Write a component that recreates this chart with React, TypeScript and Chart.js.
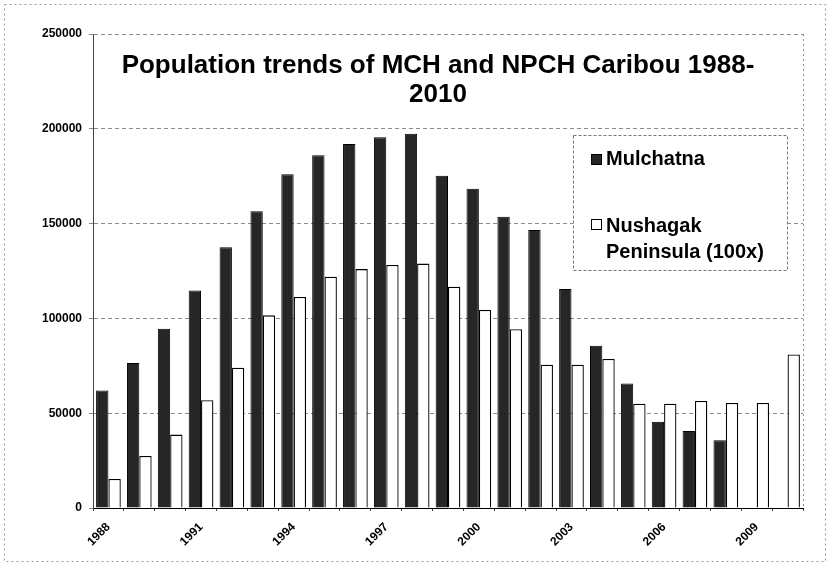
import React, { useEffect, useRef } from "react";
import { Chart, registerables } from "chart.js";

Chart.register(...registerables);

const years = ["1988", "1989", "1990", "1991", "1992", "1993", "1994", "1995", "1996", "1997", "1998", "1999", "2000", "2001", "2002", "2003", "2004", "2005", "2006", "2007", "2008", "2009", "2010"];
const shownYearLabels = ["1988", "1991", "1994", "1997", "2000", "2003", "2006", "2009"];
const mulchatna = [62000, 76500, 94500, 114700, 137500, 156500, 176000, 186000, 192000, 195500, 197400, 175300, 168400, 153600, 146600, 115500, 85600, 65600, 45500, 40600, 35700, null, null];
const nushagak = [15300, 27400, 38700, 56800, 74000, 101600, 111300, 122000, 126000, 128200, 128900, 116700, 104400, 94300, 75600, 75600, 78600, 55000, 55000, 56400, 55400, 55400, 81000];
const yMax = 250000;
const yStep = 50000;
const titleLines = ["Population trends of MCH and NPCH Caribou 1988-", "2010"];
const seriesNames = ["Mulchatna", "Nushagak Peninsula (100x)"];
const legendLines = [["Mulchatna"], ["Nushagak", "Peninsula (100x)"]];

const DARK = "#262626";
const FONT = "'Liberation Sans', Arial, sans-serif";

const decorPlugin = {
  id: "decor",
  beforeDraw(chart: any) {
    const ctx = chart.ctx;
    ctx.save();
    ctx.fillStyle = "#ffffff";
    ctx.fillRect(0, 0, chart.width, chart.height);
    ctx.strokeStyle = "#999";
    ctx.lineWidth = 1;
    ctx.setLineDash([2, 3]);
    ctx.strokeRect(4.5, 4.5, chart.width - 9, chart.height - 10);
    ctx.restore();
  },
  afterDraw(chart: any) {
    const ctx = chart.ctx;
    const a = chart.chartArea;
    ctx.save();
    // right dotted border of plot area
    ctx.strokeStyle = "#888";
    ctx.lineWidth = 1;
    ctx.setLineDash([2, 3]);
    ctx.beginPath();
    ctx.moveTo(a.right + 0.5, a.top);
    ctx.lineTo(a.right + 0.5, a.bottom);
    ctx.stroke();
    ctx.setLineDash([]);
    // solid left axis line
    ctx.strokeStyle = "#444";
    ctx.beginPath();
    ctx.moveTo(a.left + 0.5, a.top);
    ctx.lineTo(a.left + 0.5, a.bottom);
    ctx.stroke();

    // Title
    ctx.fillStyle = "#000";
    ctx.font = "bold 26px " + FONT;
    ctx.textAlign = "center";
    ctx.textBaseline = "alphabetic";
    ctx.fillText(titleLines[0], 438, 73);
    ctx.fillText(titleLines[1], 438, 102);

    // Legend box
    const bx = 573, by = 135, bw = 214, bh = 135;
    ctx.fillStyle = "#fff";
    ctx.fillRect(bx, by, bw, bh);
    ctx.strokeStyle = "#777";
    ctx.setLineDash([3, 2]);
    ctx.strokeRect(bx + 0.5, by + 0.5, bw, bh);
    ctx.setLineDash([]);

    ctx.font = "bold 20px " + FONT;
    ctx.textAlign = "left";
    ctx.textBaseline = "alphabetic";
    // item 1
    ctx.fillStyle = DARK;
    ctx.fillRect(591, 154, 11, 11);
    ctx.strokeStyle = "#000";
    ctx.strokeRect(591.5, 154.5, 10, 10);
    ctx.fillStyle = "#000";
    ctx.fillText(legendLines[0][0], 606, 165);
    // item 2
    ctx.fillStyle = "#fff";
    ctx.fillRect(591, 219, 11, 11);
    ctx.strokeStyle = "#000";
    ctx.strokeRect(591.5, 219.5, 10, 10);
    ctx.fillStyle = "#000";
    ctx.fillText(legendLines[1][0], 606, 232);
    ctx.fillText(legendLines[1][1], 606, 258);
    ctx.restore();
  },
};

export default function App() {
  const ref = useRef<HTMLCanvasElement | null>(null);

  useEffect(() => {
    if (!ref.current) return;
    const chart = new Chart(ref.current, {
      type: "bar",
      data: {
        labels: years,
        datasets: [
          {
            label: seriesNames[0],
            data: mulchatna,
            backgroundColor: DARK,
            borderColor: "#000",
            borderWidth: 1,
            categoryPercentage: 0.8,
            barPercentage: 1.0,
          },
          {
            label: seriesNames[1],
            data: nushagak,
            backgroundColor: "#ffffff",
            borderColor: "#000",
            borderWidth: 1.3,
            categoryPercentage: 0.8,
            barPercentage: 1.0,
          },
        ],
      },
      options: {
        responsive: false,
        animation: false,
        devicePixelRatio: 1,
        layout: { padding: { left: 0, right: 27, top: 34, bottom: 0 } },
        plugins: {
          legend: { display: false },
          title: { display: false },
          tooltip: { enabled: false },
        },
        scales: {
          x: {
            afterFit: (s: any) => { s.height = 59; },
            grid: {
              display: true,
              drawOnChartArea: false,
              offset: true,
              tickLength: 3,
              color: "#444",
            },
            border: { display: true, color: "#000", width: 1 },
            ticks: {
              autoSkip: false,
              maxRotation: 45,
              minRotation: 45,
              padding: 9,
              color: "#000",
              font: { family: FONT, size: 12, weight: "bold" },
              callback: (_v: any, i: number) => (shownYearLabels.includes(years[i]) ? years[i] : ""),
            },
          },
          y: {
            min: 0,
            max: yMax,
            afterFit: (s: any) => { s.width = 93; },
            grid: {
              color: "#8a8a8a",
              lineWidth: 1,
              tickLength: 4,
            },
            border: { display: true, color: "#444", width: 1, dash: [4, 3] },
            ticks: {
              stepSize: yStep,
              padding: 7,
              color: "#000",
              font: { family: FONT, size: 12, weight: "bold" },
              callback: (v: any) => String(v),
            },
          },
        },
      } as any,
      plugins: [decorPlugin],
    });
    return () => chart.destroy();
  }, []);

  return (
    <canvas
      ref={ref}
      width={830}
      height={567}
      style={{ position: "absolute", left: 0, top: 0, width: 830, height: 567 }}
    />
  );
}
